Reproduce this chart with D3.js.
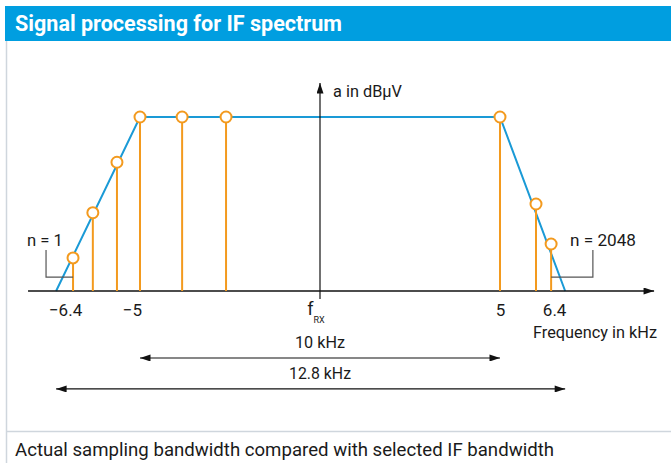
<!DOCTYPE html>
<html>
<head>
<meta charset="utf-8">
<script src="https://cdn.jsdelivr.net/npm/d3@7"></script>
<style>
  html, body { margin: 0; padding: 0; background: #fff; }
  svg { display: block; }
  text { font-family: "Roboto", "Liberation Sans", sans-serif; fill: #1a1a1a; }
</style>
</head>
<body>
<svg id="chart" width="671" height="463"></svg>
<script>
// ---- data (schematic units: kHz offset from f_RX, relative amplitude) ----
const titleText = "Signal processing for IF spectrum";
const captionText = "Actual sampling bandwidth compared with selected IF bandwidth";
const envelopeFreq = [-7.33, -5, 5, 6.81];
const envelopeAmp = [0, 1, 1, 0];
const sampleFreq = [-6.86, -6.31, -5.64, -5, -3.83, -2.61, 5, 6.0, 6.42];
const sampleAmp = [0.19, 0.45, 0.74, 1, 1, 1, 1, 0.5, 0.27];
const tickValues = [-6.86, -5, 5, 6.42];
const tickLabels = ["\u22126.4", "\u22125", "5", "6.4"];
const tickShift = [-8, -8, 0, 3];
const spanLabels = ["10 kHz", "12.8 kHz"];
const spanFrom = [-5, -7.33];
const spanTo = [5, 6.81];
const spanLevel = [-0.385, -0.563];
const noteLabels = ["n = 1", "n = 2048"];
const noteBracketX = [-7.61, 7.58];
const noteSample = [0, 8];
const xAxisExtent = [-8.11, 9.28];
const yAxisExtent = [-0.046, 1.195];

const svg = d3.select("#chart");
const W = 671, H = 463;
const x = d3.scaleLinear().domain([-5, 5]).range([140, 500]);
const y = d3.scaleLinear().domain([0, 1]).range([291, 117]);

const blue = "#1a9ad6", orange = "#f39a1e", frame = "#cfd6dd";

function fit(sel, len) { return sel.attr("textLength", len).attr("lengthAdjust", "spacingAndGlyphs"); }

// title bar
svg.append("rect").attr("x", 5).attr("y", 6).attr("width", W - 5).attr("height", 35).attr("fill", "#009ee0");
fit(svg.append("text").attr("x", 15).attr("y", 31).text(titleText)
  .style("fill", "#fff").style("font-weight", "bold").style("font-size", "22px"), 327);
// frame lines
svg.append("line").attr("x1", 6.5).attr("x2", 6.5).attr("y1", 41).attr("y2", H).attr("stroke", frame).attr("stroke-width", 1.5);
svg.append("line").attr("x1", 6).attr("x2", W).attr("y1", 431.5).attr("y2", 431.5).attr("stroke", frame).attr("stroke-width", 1.5);
fit(svg.append("text").attr("x", 15).attr("y", 456).text(captionText).style("font-size", "19px"), 539);

// arrow marker
const defs = svg.append("defs");
function marker(id, orient) {
  defs.append("marker").attr("id", id).attr("viewBox", "0 0 12 8").attr("refX", 12).attr("refY", 4)
    .attr("markerWidth", 12).attr("markerHeight", 7).attr("markerUnits", "userSpaceOnUse").attr("orient", orient)
    .append("path").attr("d", "M0,0 L12,4 L0,8 Z").attr("fill", "#111");
}
marker("arr", "auto");
marker("arrStart", "auto-start-reverse");

// envelope
const line = d3.line().x((d, i) => x(envelopeFreq[i])).y((d, i) => y(envelopeAmp[i]));
svg.append("path").attr("d", line(envelopeFreq)).attr("fill", "none").attr("stroke", blue).attr("stroke-width", 2);

// x axis line
svg.append("line").attr("x1", x(xAxisExtent[0])).attr("x2", x(xAxisExtent[1])).attr("y1", y(0)).attr("y2", y(0))
  .attr("stroke", "#111").attr("stroke-width", 1.5).attr("marker-end", "url(#arr)");
// y axis line
svg.append("line").attr("x1", x(0)).attr("x2", x(0)).attr("y1", y(yAxisExtent[0])).attr("y2", y(yAxisExtent[1]))
  .attr("stroke", "#111").attr("stroke-width", 1.2).attr("marker-end", "url(#arr)");

// stems
svg.selectAll("line.stem").data(sampleFreq).join("line").attr("class", "stem")
  .attr("x1", d => x(d)).attr("x2", d => x(d)).attr("y1", y(0)).attr("y2", (d, i) => y(sampleAmp[i]))
  .attr("stroke", orange).attr("stroke-width", 2);

// notes brackets
const noteX = [27, 570], noteW = [36, 66];
noteLabels.forEach((lab, k) => {
  const sx = x(sampleFreq[noteSample[k]]);
  const bx = x(noteBracketX[k]);
  svg.append("path").attr("d", `M${bx},${y(0.235)} L${bx},${y(0.08)} L${sx},${y(0.08)}`)
    .attr("fill", "none").attr("stroke", "#555").attr("stroke-width", 1.2);
  fit(svg.append("text").attr("x", noteX[k]).attr("y", 246).text(lab).style("font-size", "17px"), noteW[k]);
});

// sample circles
svg.selectAll("circle.smp").data(sampleFreq).join("circle").attr("class", "smp")
  .attr("cx", d => x(d)).attr("cy", (d, i) => y(sampleAmp[i])).attr("r", 5.5)
  .attr("fill", "#fff").attr("stroke", orange).attr("stroke-width", 2);

// axis labels via d3 axis
const axis = d3.axisBottom(x).tickValues(tickValues).tickSize(0).tickPadding(13)
  .tickFormat((d, i) => tickLabels[i]);
const gAxis = svg.append("g").attr("transform", `translate(0,${y(0)})`).call(axis);
gAxis.select(".domain").remove();
gAxis.attr("font-family", null).attr("font-size", null);
gAxis.selectAll("text").attr("dx", (d, i) => tickShift[i]).style("font-size", "17px").attr("fill", "#1a1a1a");

// f_RX
const fr = svg.append("text").attr("x", x(0) - 4).attr("y", 315).attr("text-anchor", "middle").style("font-size", "18px");
fr.append("tspan").text("f");
fr.append("tspan").attr("dy", 8).style("font-size", "9px").text("RX");

fit(svg.append("text").attr("x", x(0) + 13).attr("y", 97).text("a in dB\u03bcV").style("font-size", "17px"), 69);
fit(svg.append("text").attr("x", 533).attr("y", 338).text("Frequency in kHz").style("font-size", "17px"), 124);

// span arrows
const spanW = [50, 62];
spanLabels.forEach((lab, k) => {
  svg.append("line").attr("x1", x(spanFrom[k])).attr("x2", x(spanTo[k])).attr("y1", y(spanLevel[k])).attr("y2", y(spanLevel[k]))
    .attr("stroke", "#111").attr("stroke-width", 1.2)
    .attr("marker-start", "url(#arrStart)").attr("marker-end", "url(#arr)");
  const t = svg.append("text").attr("x", x(0) - spanW[k] / 2).attr("y", y(spanLevel[k]) - 10).text(lab).style("font-size", "17px");
  fit(t, spanW[k]);
});
</script>
</body>
</html>
